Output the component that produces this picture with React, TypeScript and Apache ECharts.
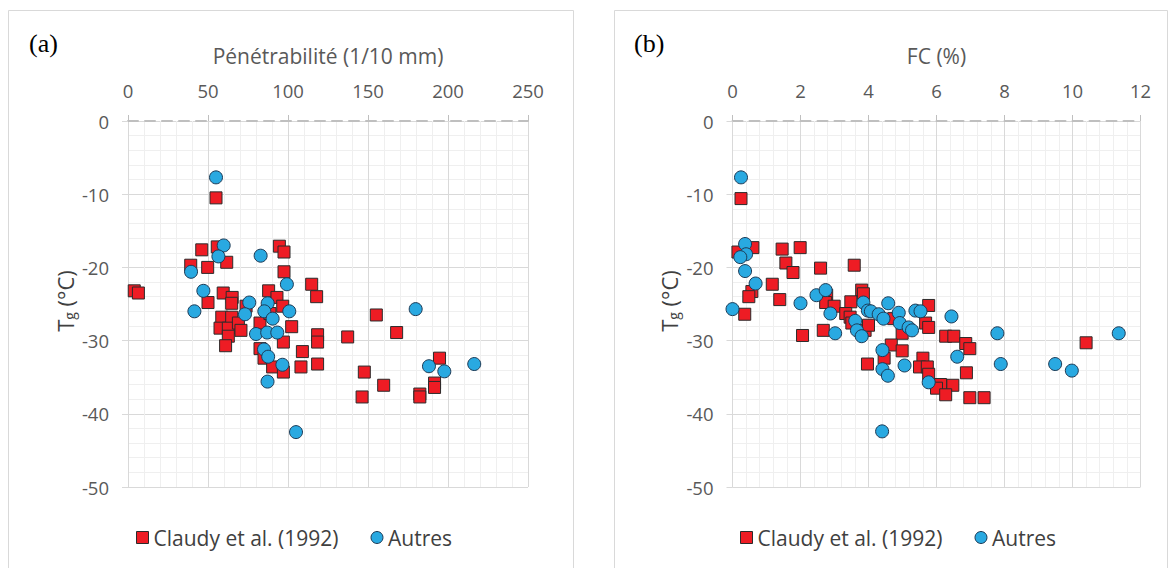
import React, { useEffect, useRef } from "react";
import * as echarts from "echarts";

const seriesNames = ["Claudy et al. (1992)", "Autres"];
const panelLabels = ["(a)", "(b)"];
const xTitles = ["Pénétrabilité (1/10 mm)", "FC (%)"];

// (a) Pénétrabilité vs Tg
const claudyPen: number[][] = [
  [3.9, -23.2], [6.5, -23.5], [39.2, -19.7], [46.1, -17.6], [49.8, -20.0], [50.0, -24.8],
  [55.0, -10.5], [55.8, -17.2], [61.7, -19.3], [59.5, -23.5], [65.1, -24.1], [64.8, -24.9],
  [73.8, -25.3], [58.6, -26.8], [64.8, -26.8], [57.5, -28.3], [62.7, -28.3], [62.7, -29.4],
  [69.0, -27.6], [70.6, -28.6], [82.5, -27.6], [61.0, -30.7], [87.9, -23.2], [93.1, -24.1],
  [94.6, -17.1], [97.5, -17.9], [97.5, -20.6], [96.7, -25.3], [88.7, -26.3], [102.3, -28.1],
  [97.1, -30.2], [82.5, -31.1], [85.0, -32.4], [90.4, -33.6], [97.1, -34.3], [109.0, -31.5],
  [108.1, -33.6], [114.8, -22.3], [117.9, -24.0], [118.5, -29.2], [118.5, -30.2], [118.5, -33.2],
  [137.3, -29.5], [155.2, -26.5], [167.9, -28.9], [147.7, -34.3], [146.3, -37.7], [159.8, -36.1],
  [194.7, -32.4], [191.6, -35.8], [191.6, -36.4], [182.4, -37.3], [182.4, -37.7]
];
const autresPen: number[][] = [
  [55.0, -7.7], [59.8, -17.0], [56.5, -18.5], [82.9, -18.4], [99.3, -22.3], [39.4, -20.6],
  [47.1, -23.2], [41.5, -26.0], [75.8, -24.8], [73.1, -26.4], [87.3, -24.9], [85.2, -26.0],
  [90.4, -27.0], [100.8, -26.0], [80.0, -29.1], [87.0, -28.9], [93.3, -28.9], [85.0, -31.2],
  [87.6, -32.2], [96.5, -33.3], [87.2, -35.6], [105.0, -42.5], [179.8, -25.7], [188.1, -33.5],
  [197.7, -34.2], [216.4, -33.2]
];

// (b) FC vs Tg
const claudyFC: number[][] = [
  [0.25, -10.6], [0.16, -17.9], [0.60, -17.3], [1.46, -17.5], [1.57, -19.4], [1.78, -20.7],
  [1.99, -17.3], [2.59, -20.1], [3.58, -19.7], [1.17, -22.3], [0.57, -23.3], [0.48, -24.0],
  [1.39, -24.4], [0.36, -26.4], [2.06, -29.3], [2.77, -23.8], [2.74, -24.8], [2.99, -25.3],
  [2.67, -28.6], [3.80, -23.1], [3.85, -23.6], [3.48, -24.7], [3.33, -26.3], [3.46, -26.8],
  [4.74, -27.0], [4.99, -29.0], [3.51, -27.6], [3.90, -28.6], [4.0, -27.9], [5.77, -25.2],
  [5.68, -27.6], [5.77, -28.2], [6.27, -29.4], [6.51, -29.4], [6.86, -30.4], [6.98, -31.1],
  [4.67, -30.6], [4.99, -31.4], [4.46, -32.4], [3.97, -33.2], [5.60, -32.4], [5.50, -33.6],
  [5.73, -33.6], [5.77, -34.6], [6.12, -36.0], [6.00, -36.5], [6.48, -36.1], [6.27, -37.4],
  [6.88, -34.4], [6.98, -37.8], [7.40, -37.8], [10.40, -30.3]
];
const autresFC: number[][] = [
  [0.25, -7.7], [0.37, -16.8], [0.40, -18.2], [0.23, -18.6], [0.37, -20.5], [0.68, -22.2],
  [0.0, -25.7], [2.0, -24.9], [2.47, -23.8], [2.74, -23.1], [2.88, -26.3], [3.02, -29.0],
  [3.85, -24.8], [3.98, -25.9], [4.07, -26.0], [4.30, -26.4], [4.44, -27.0], [4.58, -24.9],
  [4.89, -26.2], [4.92, -27.6], [5.18, -28.2], [5.28, -28.6], [5.38, -25.9], [5.53, -26.0],
  [3.61, -27.3], [3.66, -28.6], [3.80, -29.4], [6.44, -26.7], [7.79, -29.0], [6.61, -32.2],
  [7.89, -33.2], [9.49, -33.2], [9.98, -34.1], [11.36, -29.0], [4.41, -31.3], [4.41, -33.9],
  [4.57, -34.8], [5.06, -33.4], [5.77, -35.7], [4.40, -42.4]
];

const xRanges = [
  { min: 0, max: 250, interval: 50 },
  { min: 0, max: 12, interval: 2 },
];
const yRange = { min: -50, max: 0, interval: 10 };

const FONT = "'Open Sans', 'Noto Sans', sans-serif";
const SERIF = "'Liberation Serif', 'DejaVu Serif', serif";
const RED = "#ee1c24";
const BLUE = "#29a9e1";

export default function App() {
  const ref = useRef<HTMLDivElement>(null);
  useEffect(() => {
    document.body.style.margin = "0";
    if (!ref.current) return;
    const chart = echarts.init(ref.current, undefined, { renderer: "svg" });

    const grids = [
      { left: 128, top: 121, width: 400, height: 366 },
      { left: 732.5, top: 121, width: 408, height: 366 },
    ];

    const xAxes = xRanges.map((r, i) => ({
      type: "value",
      gridIndex: i,
      position: "top",
      min: r.min,
      max: r.max,
      interval: r.interval,
      name: xTitles[i],
      nameLocation: "middle",
      nameGap: 55,
      nameTextStyle: { fontSize: 21, color: "#595959", fontFamily: FONT },
      axisLabel: { fontSize: 18.5, color: "#595959", fontFamily: FONT, margin: 21 },
      axisLine: { show: true, onZero: false, lineStyle: { color: "#bfbfbf", width: 2, type: [10, 7] } },
      axisTick: { show: true, inside: false, length: 6, lineStyle: { color: "#bfbfbf", width: 1 } },
      splitLine: { show: true, lineStyle: { color: "#d9d9d9", width: 1 } },
      minorTick: { show: false, splitNumber: 5 },
      minorSplitLine: { show: true, lineStyle: { color: "#efefef", width: 1 } },
    }));

    const yAxes = [0, 1].map((i) => ({
      type: "value",
      gridIndex: i,
      min: yRange.min,
      max: yRange.max,
      interval: yRange.interval,
      axisLabel: { fontSize: 18.5, color: "#595959", fontFamily: FONT, margin: 19 },
      axisLine: { show: true, onZero: false, lineStyle: { color: "#d9d9d9", width: 1 } },
      axisTick: { show: true, inside: false, length: 6, lineStyle: { color: "#d9d9d9" } },
      splitLine: { show: true, lineStyle: { color: "#d9d9d9", width: 1 } },
      minorTick: { show: false, splitNumber: 5 },
      minorSplitLine: { show: true, lineStyle: { color: "#efefef", width: 1 } },
    }));

    const datasets = [
      [claudyPen, autresPen],
      [claudyFC, autresFC],
    ];

    const series: any[] = [];
    datasets.forEach((pair, i) => {
      series.push({
        type: "scatter",
        name: seriesNames[0],
        xAxisIndex: i,
        yAxisIndex: i,
        symbol: "rect",
        symbolSize: 12,
        itemStyle: { color: RED, borderColor: "#2b2b2b", borderWidth: 1, opacity: 1 },
        data: pair[0],
        z: 3,
      });
      series.push({
        type: "scatter",
        name: seriesNames[1],
        xAxisIndex: i,
        yAxisIndex: i,
        symbol: "circle",
        symbolSize: 13,
        itemStyle: { color: BLUE, borderColor: "#1d3a55", borderWidth: 1, opacity: 1 },
        data: pair[1],
        z: 4,
      });
    });

    const legends = [131, 735].map((left) => ({
      left,
      top: 522,
      data: [
        { name: seriesNames[0], icon: "rect", itemStyle: { color: RED, borderColor: "#2b2b2b", borderWidth: 1 } },
        { name: seriesNames[1], icon: "circle", itemStyle: { color: BLUE, borderColor: "#1d3a55", borderWidth: 1 } },
      ],
      itemWidth: 12,
      itemHeight: 12,
      itemGap: 32,
      selectedMode: false,
      textStyle: { fontSize: 21, color: "#404040", fontFamily: FONT },
    }));

    const yTitle = (x: number) => ({
      type: "text",
      x,
      y: 301,
      rotation: Math.PI / 2,
      style: {
        text: "{a|T}{b|g}{a| (°C)}",
        align: "center",
        verticalAlign: "middle",
        rich: {
          a: { fontSize: 22, fontFamily: FONT, fill: "#404040", lineHeight: 28, verticalAlign: "bottom" },
          b: { fontSize: 14, fontFamily: FONT, fill: "#404040", lineHeight: 20, verticalAlign: "bottom" },
        },
      },
    });

    chart.setOption({
      animation: false,
      backgroundColor: "#ffffff",
      grid: grids,
      xAxis: xAxes,
      yAxis: yAxes,
      series,
      legend: legends,
      graphic: [
        { type: "rect", shape: { x: 8.5, y: 10.5, width: 565, height: 580 }, style: { fill: "none", stroke: "#d9d9d9", lineWidth: 1 }, z: -1 },
        { type: "rect", shape: { x: 614.5, y: 10.5, width: 553, height: 580 }, style: { fill: "none", stroke: "#d9d9d9", lineWidth: 1 }, z: -1 },
        { type: "text", x: 29, y: 43, style: { text: panelLabels[0], fontSize: 26, fontFamily: SERIF, fill: "#000", verticalAlign: "middle" } },
        { type: "text", x: 634, y: 43, style: { text: panelLabels[1], fontSize: 26, fontFamily: SERIF, fill: "#000", verticalAlign: "middle" } },
        yTitle(62),
        yTitle(666),
      ],
    });
    return () => chart.dispose();
  }, []);
  return <div ref={ref} style={{ width: 1172, height: 568 }} />;
}
